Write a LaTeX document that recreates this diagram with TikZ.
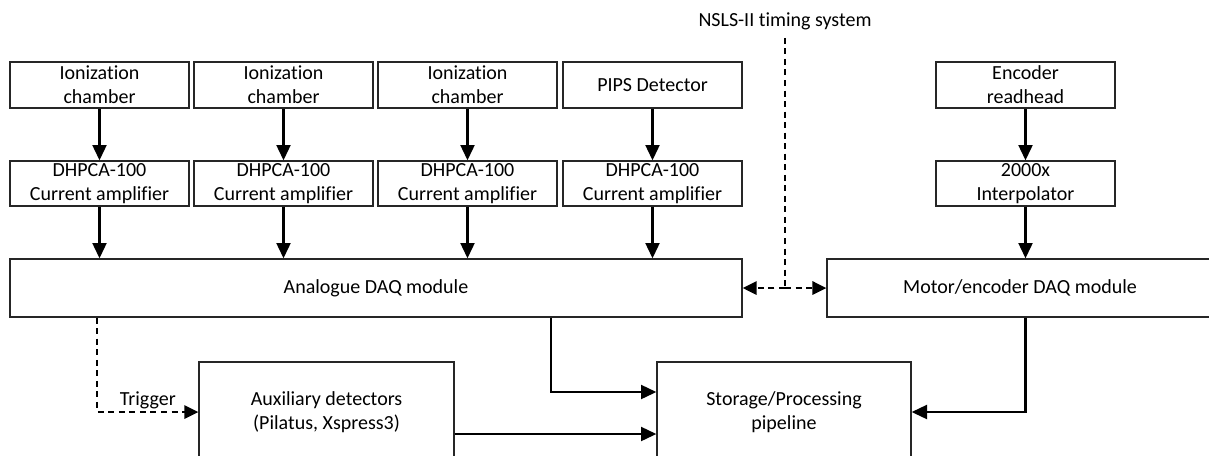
\documentclass[tikz,border=0pt]{standalone}
\usepackage{fontspec}
\setmainfont{Carlito}[Ligatures=CommonOff]
\usetikzlibrary{arrows.meta}

\begin{document}
\begin{tikzpicture}[
  x=0.75pt, y=-0.75pt,
  font=\fontsize{15pt}{18pt}\selectfont,
  box/.style 2 args={draw=black!85, line width=1pt, align=center,
    inner sep=0pt, minimum width=#1*0.75pt, minimum height=#2*0.75pt},
  flow/.style={line width=1.6pt, -{Triangle[length=11.5pt,width=10.5pt]}},
  sig/.style={line width=1.6pt, dash pattern=on 4.5pt off 3.4pt},
  sigarrow/.style={sig, -{Triangle[length=10.5pt,width=10pt]}}
]
% page area
\path[use as bounding box, fill=white] (0,0) rectangle (1209,455);
\clip (0,0) rectangle (1209,455);

% sensors
\node[box={179}{46}] (ic1) at (99.5,85) {Ionization\\chamber};
\node[box={179}{46}] (ic2) at (283.5,85) {Ionization\\chamber};
\node[box={179}{46}] (ic3) at (467.5,85) {Ionization\\chamber};
\node[box={179}{46}] (pips) at (652.5,85) {PIPS Detector};
\node[box={179}{46}] (enc) at (1025.5,85) {Encoder\\readhead};

% amplifiers / interpolator
\node[box={179}{45}] (amp1) at (99.5,183.5) {DHPCA-100\\Current amplifier};
\node[box={179}{45}] (amp2) at (283.5,183.5) {DHPCA-100\\Current amplifier};
\node[box={179}{45}] (amp3) at (467.5,183.5) {DHPCA-100\\Current amplifier};
\node[box={179}{45}] (amp4) at (652.5,183.5) {DHPCA-100\\Current amplifier};
\node[box={179}{45}] (interp) at (1025.5,183.5) {2000x\\Interpolator};

% acquisition modules
\node[box={732}{58}] (daq) at (376,288) {Analogue DAQ module};
\node[box={386}{58}] (motor) at (1020,288) {Motor/encoder DAQ module};

% downstream
\node[box={255}{100}] (aux) at (326.5,412) {Auxiliary detectors\\(Pilatus, Xspress3)};
\node[box={254}{100}] (stor) at (784,412) {Storage/Processing\\pipeline};

% timing source
\node[inner sep=1pt] (timing) at (785,21) {NSLS-II timing system};

% signal chain
\draw[flow] (ic1) -- (amp1);
\draw[flow] (ic2) -- (amp2);
\draw[flow] (ic3) -- (amp3);
\draw[flow] (pips) -- (amp4);
\draw[flow] (enc) -- (interp);
\draw[flow] (amp1.south) -- (amp1.south |- daq.north);
\draw[flow] (amp2.south) -- (amp2.south |- daq.north);
\draw[flow] (amp3.south) -- (amp3.south |- daq.north);
\draw[flow] (amp4.south) -- (amp4.south |- daq.north);
\draw[flow] (interp.south) -- (interp.south |- motor.north);

% timing distribution
\coordinate (tj) at (timing.south |- daq.east);
\draw[sig] ([yshift=-5pt]timing.south) -- (tj);
\draw[sigarrow] (tj) -- (daq.east);
\draw[sigarrow] (tj) -- (motor.west);

% trigger to auxiliary detectors
\draw[sigarrow] ([xshift=66pt]daq.south west) |- (aux.west)
  node[pos=0.75, above, inner sep=1.5pt] {Trigger};

% data to storage
\draw[flow] ([xshift=131.25pt]daq.south) |- ([yshift=15pt]stor.west);
\draw[flow] ([yshift=-16.5pt]aux.east) -- ([yshift=-16.5pt]stor.west);
\draw[flow] (motor.south -| interp.south) |- (stor.east);
\end{tikzpicture}
\end{document}
